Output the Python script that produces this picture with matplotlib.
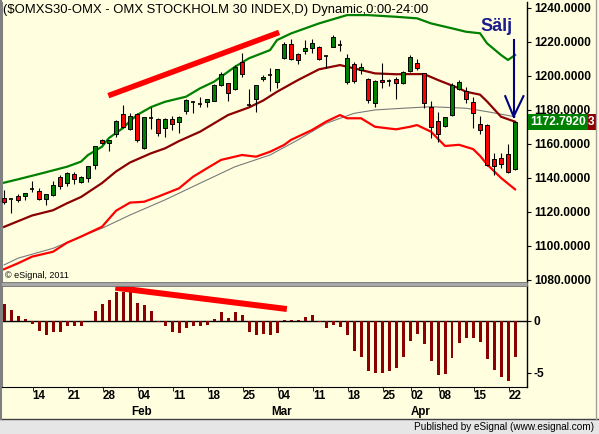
import matplotlib
matplotlib.use("Agg")
import matplotlib.pyplot as plt
import matplotlib.transforms as mtransforms
from matplotlib.patches import Rectangle
from matplotlib.lines import Line2D

plt.rcParams['font.family'] = ['Liberation Sans', 'DejaVu Sans']

# ---- daily OHLC, $OMXS30 ----
opens = [1128.0, 1127.4, 1129.2, 1129.4, 1133.3, 1132.3, 1127.4, 1129.8, 1140.8, 1136.9,
         1142.4, 1137.8, 1140.2, 1147.6, 1162.4, 1160.4, 1165.7, 1177.6, 1168.6, 1177.4,
         1157.4, 1175.5, 1174.5, 1169.2, 1174.9, 1172.8, 1179.6, 1184.9, 1183.5, 1184.5,
         1185.3, 1194.5, 1195.7, 1192.1, 1208.4, 1183.0, 1186.7, 1198.0, 1200.6, 1196.4,
         1210.4, 1218.8, 1212.9, 1214.9, 1216.3, 1216.9, 1211.8, 1217.3, 1218.2, 1196.6,
         1207.0, 1203.6, 1198.2, 1184.0, 1197.6, 1197.0, 1198.0, 1196.1, 1202.9, 1207.8,
         1201.6, 1182.0, 1173.7, 1170.6, 1177.0, 1192.1, 1191.4, 1184.9, 1171.8, 1171.2,
         1151.0, 1151.6, 1153.9, 1145.1]
highs = [1132.9, 1127.8, 1130.4, 1131.4, 1138.2, 1134.1, 1130.6, 1138.2, 1141.8, 1143.6,
         1143.6, 1141.4, 1147.1, 1159.0, 1163.0, 1162.6, 1174.0, 1182.9, 1178.0, 1178.0,
         1176.0, 1181.6, 1175.0, 1175.5, 1176.5, 1176.3, 1186.7, 1185.1, 1187.8, 1186.7,
         1195.0, 1202.3, 1196.0, 1206.3, 1213.3, 1192.1, 1194.8, 1200.5, 1204.5, 1204.0,
         1219.8, 1221.7, 1213.5, 1220.9, 1221.6, 1217.5, 1212.0, 1224.0, 1220.9, 1213.1,
         1208.0, 1207.6, 1198.5, 1197.5, 1207.8, 1198.0, 1199.6, 1203.0, 1212.3, 1210.0,
         1202.0, 1185.0, 1178.8, 1176.0, 1195.7, 1197.6, 1193.3, 1187.8, 1176.5, 1172.0,
         1154.5, 1154.5, 1160.0, 1173.5]
lows = [1124.7, 1119.2, 1125.9, 1127.1, 1132.0, 1127.1, 1124.1, 1129.6, 1133.5, 1135.3,
        1136.3, 1136.9, 1137.8, 1145.3, 1160.0, 1156.0, 1164.0, 1169.2, 1168.0, 1161.3,
        1157.0, 1168.8, 1164.5, 1163.9, 1168.0, 1166.6, 1177.9, 1178.0, 1181.9, 1181.9,
        1185.0, 1193.9, 1185.4, 1191.5, 1199.2, 1181.8, 1179.0, 1197.0, 1191.2, 1193.0,
        1210.0, 1209.5, 1207.2, 1213.1, 1213.5, 1209.5, 1204.5, 1217.0, 1214.9, 1195.5,
        1196.0, 1200.9, 1184.0, 1181.6, 1192.7, 1194.0, 1186.3, 1195.5, 1202.5, 1203.5,
        1181.0, 1163.3, 1161.3, 1170.0, 1176.5, 1191.5, 1184.0, 1169.2, 1166.0, 1147.0,
        1141.8, 1146.0, 1143.0, 1144.5]
closes = [1125.9, 1127.4, 1127.1, 1131.2, 1133.3, 1127.4, 1130.4, 1135.7, 1135.3, 1142.8,
          1139.2, 1140.6, 1146.9, 1158.8, 1160.8, 1162.4, 1173.7, 1170.1, 1176.5, 1162.4,
          1175.7, 1175.5, 1166.3, 1174.9, 1171.6, 1176.1, 1185.9, 1184.9, 1183.5, 1186.5,
          1194.5, 1201.1, 1189.8, 1205.4, 1201.1, 1183.0, 1194.5, 1199.6, 1200.6, 1203.9,
          1218.8, 1209.8, 1209.4, 1216.3, 1219.2, 1209.8, 1211.8, 1223.2, 1218.2, 1210.4,
          1197.2, 1205.2, 1185.9, 1197.2, 1196.3, 1197.0, 1195.7, 1202.2, 1211.0, 1204.5,
          1183.9, 1170.2, 1165.9, 1175.7, 1194.5, 1196.4, 1186.3, 1178.4, 1168.2, 1147.6,
          1147.0, 1148.2, 1143.7, 1172.792]

# ---- band / average lines (bar number, value) ----
upper_idx = [0, 2, 5, 9, 11, 12, 14, 15, 17, 18, 19, 21, 23, 26, 28, 30, 33, 35, 38, 39,
             41, 45, 49, 52, 56, 59, 61, 64, 66, 68, 69, 71, 72, 73]
upper_val = [1137.2, 1139.2, 1142.3, 1146.6, 1149.6, 1153.5, 1158.4, 1163.5, 1169.4, 1173.5,
             1177.0, 1181.7, 1184.8, 1187.8, 1192.7, 1196.6, 1205.4, 1210.4, 1215.2, 1221.1,
             1225.0, 1230.9, 1235.8, 1235.8, 1234.8, 1233.9, 1230.9, 1228.0, 1226.0, 1225.1,
             1219.2, 1212.3, 1209.4, 1212.3]
mid_idx = [0, 4, 7, 9, 11, 14, 16, 18, 21, 23, 25, 28, 30, 32, 35, 37, 39, 42, 45, 48,
           51, 53, 56, 58, 60, 62, 65, 66, 68, 69, 71, 73]
mid_val = [1111.2, 1117.9, 1121.0, 1125.1, 1128.8, 1137.0, 1143.8, 1149.1, 1154.5, 1157.4,
           1161.7, 1167.2, 1172.1, 1177.0, 1181.5, 1185.5, 1190.7, 1197.6, 1203.9, 1206.4,
           1203.5, 1201.5, 1201.0, 1201.1, 1201.1, 1197.6, 1192.7, 1190.7, 1189.0, 1185.0,
           1176.0, 1173.1]
lower_idx = [0, 2, 4, 7, 9, 11, 14, 16, 18, 20, 22, 25, 27, 29, 31, 34, 36, 38, 40, 41,
             44, 46, 48, 49, 51, 53, 56, 58, 59, 61, 63, 65, 67, 68, 69, 71, 73]
lower_val = [1086.3, 1089.8, 1093.7, 1096.6, 1101.9, 1105.5, 1111.3, 1120.7, 1125.5, 1126.0,
             1129.0, 1133.9, 1140.7, 1145.7, 1150.6, 1153.5, 1152.5, 1155.4, 1159.4, 1162.4,
             1168.2, 1173.1, 1177.0, 1175.1, 1175.1, 1170.1, 1168.6, 1170.1, 1171.1, 1167.2,
             1158.8, 1159.5, 1157.0, 1153.0, 1148.0, 1140.0, 1133.3]
slow_idx = [0, 2, 7, 11, 14, 18, 23, 28, 33, 38, 42, 46, 50, 53, 57, 61, 66, 69, 73]
slow_val = [1088.8, 1092.8, 1098.6, 1105.5, 1110.4, 1118.2, 1127.1, 1136.9, 1146.6, 1153.5,
            1162.4, 1172.1, 1178.0, 1180.0, 1181.0, 1181.9, 1181.0, 1179.0, 1176.0]

# ---- lower oscillator histogram ----
osc = [1.63, 1.06, 0.48, 0.19, -0.29, -0.96, -1.35, -1.06, -1.06, -0.48,
       -0.48, -0.48, 0.03, 1.0, 1.6, 2.0, 2.8, 2.8, 3.05, 1.7,
       1.5, 1.0, -0.1, -0.48, -1.06, -1.15, -0.67, -0.48, -0.48, -0.38,
       0.19, 0.87, 0.29, 0.87, 0.58, -1.06, -1.35, -1.25, -1.35, -1.15,
       0.1, 0.1, 0.1, 0.38, 0.58, -0.13, -0.67, -0.38, -0.58, -1.35,
       -2.88, -3.46, -4.81, -5.0, -5.0, -4.81, -4.52, -3.46, -1.92, -1.25,
       -2.21, -3.85, -5.19, -5.1, -3.56, -2.12, -1.63, -1.63, -2.02, -3.65,
       -4.71, -5.38, -5.77, -3.46]

tick_idx = [5, 10, 15, 20, 25, 30, 35, 40, 45, 50, 55, 59, 63, 68, 73]
tick_lbl = ['14', '21', '28', '04', '11', '18', '25', '04', '11', '18', '25', '02', '08', '15', '22']
month_idx = [19.7, 39.7, 59.5]
month_lbl = ['Feb', 'Mar', 'Apr']
price_ticks = [1080, 1100, 1120, 1140, 1160, 1180, 1200, 1220, 1240]

# hand drawn divergence lines (bar, value)
price_trend = ([14.9, 39.3], [1188.4, 1225.6])
osc_trend = ([15.9, 40.4], [3.2, 1.15])

BG = '#FFFFE0'
W, H = 599, 434

fig = plt.figure(figsize=(W / 100, H / 100), dpi=100, facecolor=BG)


def px_box(x0, y0, x1, y1):
    return [x0 / W, 1 - y1 / H, (x1 - x0) / W, (y1 - y0) / H]


ax = fig.add_axes(px_box(2, 2, 527, 283))
ax2 = fig.add_axes(px_box(2, 285, 527, 387), sharex=ax)
for a in (ax, ax2):
    a.set_facecolor(BG)
    a.spines['top'].set_visible(False)
    a.spines['left'].set_color('#808080')
    a.spines['right'].set_linewidth(1.0)
ax.spines['bottom'].set_visible(False)

n = len(closes)
xs = list(range(n))

# candles
bw = 0.6
for i in xs:
    o, h, l, c = opens[i], highs[i], lows[i], closes[i]
    ax.vlines(i, l, h, color='black', lw=0.8, zorder=3)
    if abs(c - o) < 0.3:
        ax.hlines(o, i - bw / 2, i + bw / 2, color='black', lw=1.2, zorder=4)
    else:
        col = '#008000' if c > o else '#FF0000'
        ax.bar(i, abs(c - o), bottom=min(o, c), width=bw, color=col,
               edgecolor='black', linewidth=0.7, zorder=4)

ax.plot(slow_idx, slow_val, color='#7A7A7A', lw=0.8, zorder=2)
ax.plot(lower_idx, lower_val, color='#FF0000', lw=1.6, zorder=2)
ax.plot(mid_idx, mid_val, color='#8B0000', lw=1.6, zorder=2)
ax.plot(upper_idx, upper_val, color='#008000', lw=1.6, zorder=2)

ax.plot(*price_trend, color='#FF0000', lw=4, solid_capstyle='butt', zorder=5)

# sell arrow
last = n - 1
tip = mid_val[-1] + 3
ax.plot([last - 0.2, last - 0.2], [1221, tip], color='#000080', lw=1.5, zorder=6)
ax.plot([last - 1.4, last - 0.2, last + 1.2], [tip + 12, tip, tip + 12],
        color='#000080', lw=1.5, zorder=6, clip_on=False)
ax.text(last - 2.6, 1229, 'Sälj', color='#1C1C8C', fontsize=13, fontweight='bold',
        ha='center', va='center', zorder=6)

ax.set_xlim(-0.29, 74.71)
ax.set_ylim(1078.2, 1243.5)
ax.yaxis.tick_right()
ax.set_yticks(price_ticks)
ax.set_yticklabels(['%.4f' % v for v in price_ticks])
ax.tick_params(axis='y', direction='out', length=3, pad=2, labelsize=8.6)
ax.tick_params(axis='x', bottom=False, labelbottom=False)
for t in ax.get_yticklabels():
    t.set_fontweight('bold')

# last price label
yt = mtransforms.blended_transform_factory(ax.transAxes, ax.transData)
ax.text(1.0 + 3 / 525, closes[-1], '%.4f' % closes[-1], transform=yt, color='white',
        fontsize=8.6, fontweight='bold', ha='left', va='center', clip_on=False, zorder=9,
        bbox=dict(boxstyle='square,pad=0.18', facecolor='#008000', edgecolor='none'))
ax.text(1.0 + 61 / 525, closes[-1], '3', transform=yt, color='white',
        fontsize=8.6, fontweight='bold', ha='left', va='center', clip_on=False, zorder=8,
        bbox=dict(boxstyle='square,pad=0.18', facecolor='#8B0000', edgecolor='none'))

ax.text(0.006, 0.012, '\u00a9 eSignal, 2011', transform=ax.transAxes, fontsize=6.5,
        ha='left', va='bottom')

# oscillator
ax2.bar(xs, osc, width=0.42, color='#8B0000', zorder=3)
ax2.axhline(0, color='black', lw=1.0, zorder=2)
ax2.plot(*osc_trend, color='#FF0000', lw=4.3, solid_capstyle='butt', zorder=5)
ax2.set_ylim(-6.35, 3.46)
ax2.yaxis.tick_right()
ax2.set_yticks([0, -5])
ax2.set_yticklabels(['0', '-5'])
ax2.tick_params(axis='y', direction='out', length=3, pad=2, labelsize=8.6)
ax2.set_xticks(tick_idx)
ax2.set_xticklabels(tick_lbl)
ax2.set_xticks([t - 0.9 for t in tick_idx], minor=True)
ax2.tick_params(axis='x', which='major', length=0, pad=2, labelsize=8.4)
ax2.tick_params(axis='x', which='minor', direction='out', length=3)
for t in ax2.get_xticklabels() + ax2.get_yticklabels():
    t.set_fontweight('bold')

mt = mtransforms.blended_transform_factory(ax2.transData, fig.transFigure)
for mi, ml in zip(month_idx, month_lbl):
    ax2.text(mi, 1 - 412 / H, ml, transform=mt, fontsize=8.4, fontweight='bold',
             ha='center', va='center')

# frame pieces
fig.add_artist(Rectangle((0, 1 - 285.5 / H), 527 / W, 3.5 / H, transform=fig.transFigure,
                         facecolor='#A8A8A8', edgecolor='#707070', lw=0.6))
fig.add_artist(Rectangle((0, 0), 1, 15 / H, transform=fig.transFigure,
                         facecolor='#E6E6E6', edgecolor='none'))
fig.add_artist(Line2D([0, 1], [15 / H, 15 / H], transform=fig.transFigure,
                      color='#404040', lw=1.0))
fig.add_artist(Line2D([1 / W, 1 / W], [15 / H, 1], transform=fig.transFigure,
                      color='#808080', lw=1.5))
fig.add_artist(Line2D([596 / W, 596 / W], [15 / H, 1], transform=fig.transFigure,
                      color='#A0A0A0', lw=1.0))
fig.text(1 - 5 / W, 7 / H, 'Published by eSignal (www.esignal.com)', fontsize=7.2,
         ha='right', va='center')

fig.text(3 / W, 1 - 10 / H, '($OMXS30-OMX - OMX STOCKHOLM 30 INDEX,D) Dynamic,0:00-24:00',
         fontsize=9.4, ha='left', va='center')

fig.savefig('out.png', dpi=100, facecolor=BG)
